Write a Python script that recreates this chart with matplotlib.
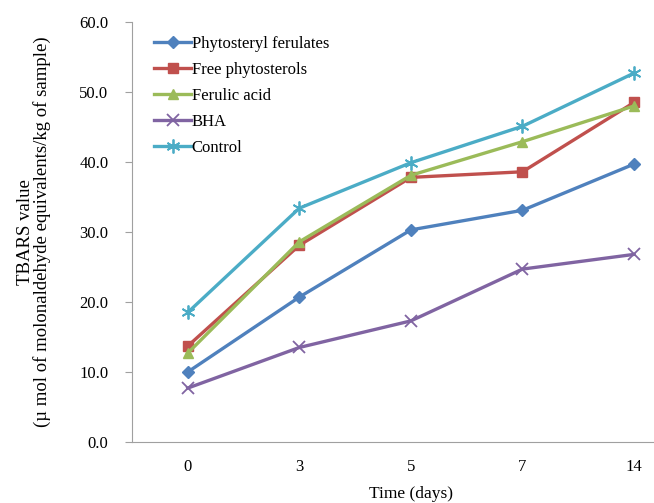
import matplotlib.pyplot as plt

days = ['0', '3', '5', '7', '14']
phytosteryl = [10.0, 20.7, 30.3, 33.1, 39.7]
free_phyto = [13.7, 28.1, 37.8, 38.6, 48.5]
ferulic = [12.7, 28.6, 38.1, 42.9, 48.0]
bha = [7.7, 13.5, 17.3, 24.7, 26.8]
control = [18.5, 33.4, 39.9, 45.1, 52.7]

plt.rcParams['font.family'] = ['Liberation Serif', 'DejaVu Serif']

fig = plt.figure(figsize=(6.54, 5.03), dpi=100)
ax = fig.add_axes([0.2018, 0.1213, 0.853, 0.835])

x = range(len(days))
ax.plot(x, phytosteryl, color='#4F81BD', marker='D', ms=6, lw=2.4, label='Phytosteryl ferulates')
ax.plot(x, free_phyto, color='#C0504D', marker='s', ms=7, lw=2.4, label='Free phytosterols')
ax.plot(x, ferulic, color='#9BBB59', marker='^', ms=7, lw=2.4, label='Ferulic acid')
ax.plot(x, bha, color='#8064A2', marker='x', ms=9, mew=1.3, lw=2.4, label='BHA')
ax.plot(x, control, color='#4BACC6', marker=(6, 2, 0), ms=10, mew=1.3, lw=2.4, label='Control')

ax.set_xlim(-0.5, 4.5)
ax.set_ylim(0, 60)
ax.set_xticks(list(x))
ax.set_xticklabels(days)
ax.set_yticks(range(0, 61, 10))
ax.set_yticklabels([f'{v:.1f}' for v in range(0, 61, 10)])
ax.tick_params(axis='x', length=0, pad=12, labelsize=12)
ax.tick_params(axis='y', length=5, color='#a0a0a0', labelsize=12, pad=12)
for s in ['top', 'right']:
    ax.spines[s].set_visible(False)
for s in ['left', 'bottom']:
    ax.spines[s].set_color('#a0a0a0')

ax.set_xlabel('Time (days)', fontsize=12.5, labelpad=8)
ax.set_ylabel('TBARS value\n(\u00b5 mol of molonaldehyde equivalents/kg of sample)', fontsize=13.5, labelpad=20, linespacing=1.0)

ax.legend(loc='upper left', bbox_to_anchor=(0.022, 0.99), frameon=False, fontsize=12,
          handlelength=2.2, handletextpad=0.05, labelspacing=0.6, borderaxespad=0.2)

fig.savefig('out.png', dpi=100)
